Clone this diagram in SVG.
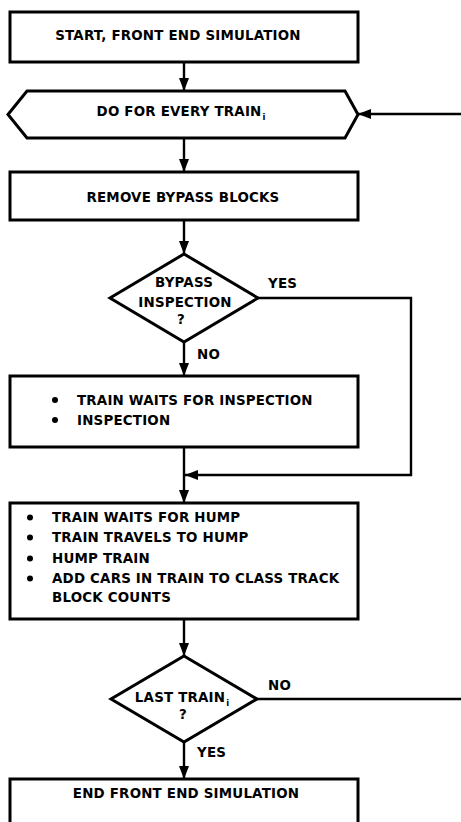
<svg xmlns="http://www.w3.org/2000/svg" width="461" height="822" viewBox="0 0 461 822">
  <style>
    .shape { fill: #ffffff; stroke: #000000; stroke-width: 3; stroke-linejoin: miter; }
    .link { fill: none; stroke: #000000; stroke-width: 2.4; }
    .t { font-family: "DejaVu Sans", "Liberation Sans", sans-serif; font-weight: bold; font-size: 13.4px; letter-spacing: 0.2px; fill: #000000; }
    .c { text-anchor: middle; }
    .sub { font-size: 8.5px; letter-spacing: 0; }
    .dot { fill: #000000; }
  </style>
  <defs>
    <marker id="arrow" markerUnits="userSpaceOnUse" markerWidth="14" markerHeight="11" refX="13" refY="5.5" orient="auto">
      <path d="M0,0.5 L13,5.5 L0,10.5 z" fill="#000000"/>
    </marker>
  </defs>
  <rect width="461" height="822" fill="#ffffff"/>

  <!-- connectors -->
  <g id="connectors">
    <line class="link" x1="184" y1="62" x2="184" y2="91" marker-end="url(#arrow)"/>
    <line class="link" x1="184" y1="138" x2="184" y2="172" marker-end="url(#arrow)"/>
    <line class="link" x1="184" y1="220" x2="184" y2="254" marker-end="url(#arrow)"/>
    <line class="link" x1="184" y1="342" x2="184" y2="376" marker-end="url(#arrow)"/>
    <polyline class="link" points="258,298 411,298 411,475 185,475" marker-end="url(#arrow)"/>
    <line class="link" x1="184" y1="447" x2="184" y2="503" marker-end="url(#arrow)"/>
    <line class="link" x1="184" y1="619" x2="184" y2="656" marker-end="url(#arrow)"/>
    <line class="link" x1="184" y1="742" x2="184" y2="779" marker-end="url(#arrow)"/>
    <line class="link" x1="257" y1="699" x2="461" y2="699"/>
    <line class="link" x1="461" y1="114" x2="358" y2="114" marker-end="url(#arrow)"/>
    <text class="t" x="268" y="288">YES</text>
    <text class="t" x="197" y="359">NO</text>
    <text class="t" x="268" y="690">NO</text>
    <text class="t" x="197" y="757">YES</text>
  </g>

  <g id="start">
    <rect class="shape" x="10" y="12" width="348" height="50"/>
    <text class="t c" x="178" y="40">START, FRONT END SIMULATION</text>
  </g>

  <g id="loop">
    <polygon class="shape" points="8,114.5 27,91 345,91 358,114.5 345,138 27,138"/>
    <text class="t c" x="181" y="116">DO FOR EVERY TRAIN<tspan class="sub" dx="1" dy="4">i</tspan></text>
  </g>

  <g id="remove-bypass">
    <rect class="shape" x="10" y="172" width="348" height="48"/>
    <text class="t c" x="183" y="202">REMOVE BYPASS BLOCKS</text>
  </g>

  <g id="bypass-decision">
    <polygon class="shape" points="184,254 258,298 184,342 110,298"/>
    <text class="t c" x="184" y="287">BYPASS</text>
    <text class="t c" x="185" y="307">INSPECTION</text>
    <text class="t c" x="181" y="324">?</text>
  </g>

  <g id="inspection">
    <rect class="shape" x="10" y="376" width="348" height="71"/>
    <circle class="dot" cx="55" cy="400" r="3"/>
    <text class="t" x="77" y="404.5">TRAIN WAITS FOR INSPECTION</text>
    <circle class="dot" cx="55" cy="420" r="3"/>
    <text class="t" x="77" y="424.5">INSPECTION</text>
  </g>

  <g id="hump">
    <rect class="shape" x="10" y="503" width="348" height="116"/>
    <circle class="dot" cx="30" cy="517.5" r="3"/>
    <text class="t" x="52" y="522">TRAIN WAITS FOR HUMP</text>
    <circle class="dot" cx="30" cy="537.5" r="3"/>
    <text class="t" x="52" y="542">TRAIN TRAVELS TO HUMP</text>
    <circle class="dot" cx="30" cy="558.5" r="3"/>
    <text class="t" x="52" y="563">HUMP TRAIN</text>
    <circle class="dot" cx="30" cy="578.5" r="3"/>
    <text class="t" x="52" y="583">ADD CARS IN TRAIN TO CLASS TRACK</text>
    <text class="t" x="52" y="602">BLOCK COUNTS</text>
  </g>

  <g id="last-decision">
    <polygon class="shape" points="184,656 257,699 184,742 111,699"/>
    <text class="t c" x="182" y="702">LAST TRAIN<tspan class="sub" dx="1" dy="4">i</tspan></text>
    <text class="t c" x="183" y="719">?</text>
  </g>

  <g id="end">
    <rect class="shape" x="10" y="779" width="348" height="60"/>
    <text class="t c" x="186" y="798">END FRONT END SIMULATION</text>
  </g>
</svg>
